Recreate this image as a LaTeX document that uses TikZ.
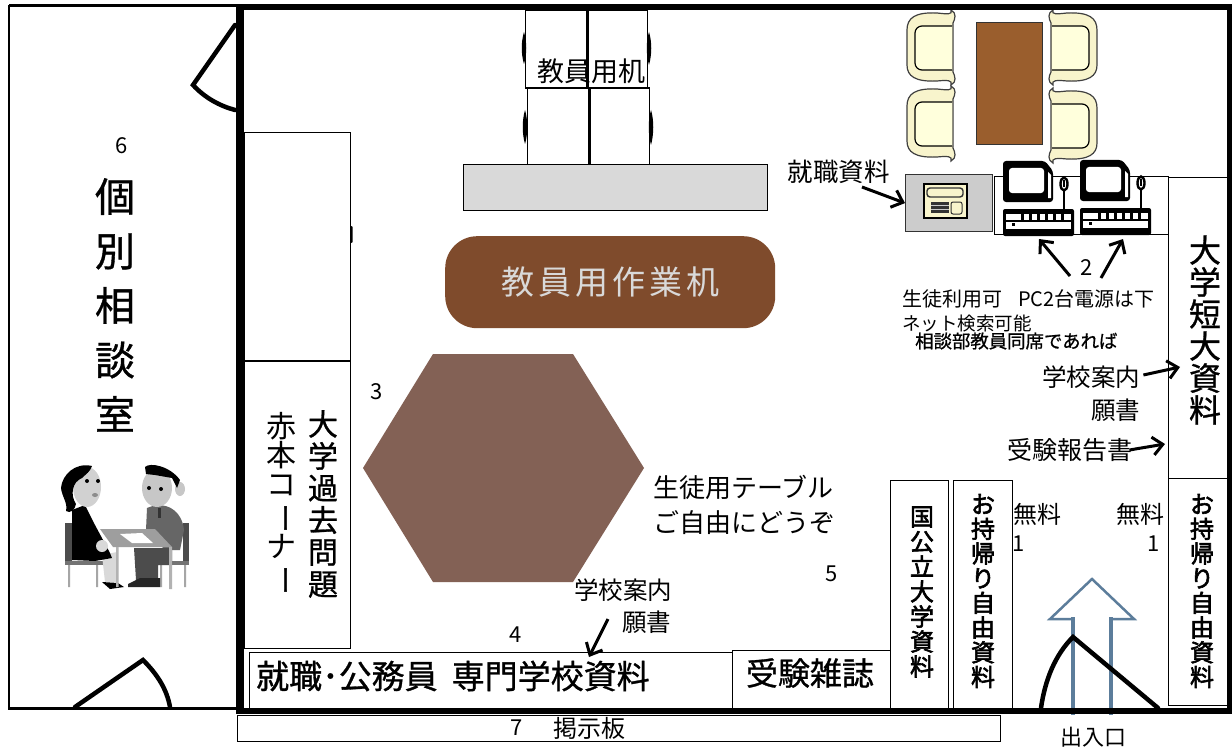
\documentclass[tikz,border=0pt]{standalone}
\usepackage{fontspec}
\setmainfont{Noto Sans CJK JP}
\newfontfamily\medfont{Noto Sans CJK JP}[FakeBold=0.9]
\newfontfamily\heavyfont{Noto Sans CJK JP}[FakeBold=2.5]
\usetikzlibrary{arrows.meta}
\newcommand{\fs}[2]{\fontsize{#1pt}{#2pt}\selectfont}
\newcommand{\choon}{\rotatebox[origin=c]{-90}{ー}}
\definecolor{sofa}{HTML}{F8F4CC}
\definecolor{cushion}{HTML}{FFFFDC}
\definecolor{woodA}{HTML}{7F4B2C}
\definecolor{woodB}{HTML}{9A5E2D}
\definecolor{hexbrown}{HTML}{836155}
\definecolor{arrowblue}{HTML}{5C7D9B}
\tikzset{
  wall/.style={fill=black,draw=none},
  thinbox/.style={draw=black,line width=1.2pt,fill=white},
  doorline/.style={draw=black,line width=4.5pt,line cap=round,line join=miter},
  barb/.style={draw=black,line width=3pt,-{Straight Barb[length=10pt,width=18pt,line width=3pt]}},
  lab/.style={inner sep=0pt,text=black},
  num/.style={lab,font=\fs{22}{22}},
  vt/.style={lab,align=center},
  chairmark/.style={fill=black,draw=none},
}
\newcommand{\mychair}[3]{%
\begin{scope}[shift={(#1,#2)},xscale=#3]
  \path[draw=black!75,line width=1.2pt,fill=sofa] (44,0) .. controls (46,5) and (40,4) .. (30,3) .. controls (8,2) and (0,8) .. (0,20)
    -- (0,55) .. controls (0,66) and (8,72) .. (30,71) .. controls (40,70) and (46,70) .. (44,75)
    .. controls (50,72) and (48,66) .. (46,62) -- (46,13) .. controls (48,9) and (50,3) .. (44,0) -- cycle;
  \path[draw=black,line width=1.2pt,fill=cushion,rounded corners=7pt] (45,16) -- (8,16) -- (8,60) -- (45,60);
\end{scope}}
\newcommand{\mycomputer}[2]{%
\begin{scope}[shift={(#1,#2)}]
  \path[fill=black,rounded corners=3pt] (0,0) -- (42,0) -- (50,10) -- (50,41) -- (0,41) -- cycle;
  \path[fill=white,rounded corners=3pt] (6,7) -- (41,7) -- (41,32) -- (6,32) -- cycle;
  \path[fill=white] (45,11) -- (48,14) -- (48,37) -- (45,37) -- cycle;
  \path[draw=black,line width=1.8pt] (61,30) -- (61,48);
  \path[draw=black,line width=2.4pt,fill=white] (61,23) ellipse (3.5 and 6.5);
  \path[fill=black] (60,19) rectangle (62,26);
  \path[fill=black,rounded corners=2pt] (0,48) rectangle (71,75);
  \path[fill=white] (3,53) rectangle (68,68);
  \foreach \kx in {18,26,34,42,50,58} {\path[fill=black] (\kx,53) rectangle (\kx+3,61);}
  \path[fill=black] (3,59) rectangle (68,61);
  \path[fill=black] (9,62) rectangle (12,65);
\end{scope}}
\begin{document}
\begin{tikzpicture}[x=1pt,y=-1pt]
\useasboundingbox (0,0) rectangle (1232,749);
\fill[white] (0,0) rectangle (1232,749);

% left counselling room
\draw[line width=2.6pt] (9,5.5) -- (236,5.5);
\draw[line width=2.6pt] (9,5.5) -- (9,708.5) -- (236,708.5);

% board
\node[thinbox,minimum width=763pt,minimum height=26pt,inner sep=0pt,anchor=north west] (board) at (237,715) {};
\node[lab,font=\fs{22}{22},anchor=west] (boardnum) at (510,728) {7};
\node[lab,font=\fs{24}{24},anchor=west] (boardtext) at (553,728) {掲示板};

% doors
\draw[doorline] (235,25) -- (193,85) .. controls (205,98) and (220,106) .. (235,110);
\draw[doorline] (75,707) -- (143,660) .. controls (158,675) and (167,690) .. (170,707);

% shelves
\node[thinbox,minimum width=106pt,minimum height=228pt,inner sep=0pt,anchor=north west] (shelfA) at (244,132) {};
\fill[black,rounded corners=1pt] (350.5,226) rectangle (352.5,243);
\node[thinbox,minimum width=106pt,minimum height=287pt,inner sep=0pt,anchor=north west] (shelfB) at (244,360.5) {};
\draw[line width=2pt] (244,360.5) -- (350,360.5);
\node[vt,font={\medfont\fs{30}{32}}] (pastq) at (323,504) {大\\学\\過\\去\\問\\題};
\node[vt,font={\fs{30}{29}}] (akahon) at (281,504) {赤\\本\\コ\\\choon\\ナ\\\choon};

% desks at the top
\draw[line width=1.4pt,fill=white] (525.5,10) rectangle (587,88);
\draw[line width=1.4pt,fill=white] (587,10) rectangle (647.5,88);
\draw[line width=1.4pt,fill=white] (527.5,88) rectangle (589,165);
\draw[line width=1.4pt,fill=white] (589,88) rectangle (649.5,165);
\draw[line width=2.4pt] (587.5,10) -- (587.5,88) (589.5,88) -- (589.5,165);
\fill[chairmark] (524,32) .. controls (521,42) and (521,54) .. (524,64) .. controls (527,54) and (527,42) .. (524,32);
\fill[chairmark] (525,110) .. controls (522,120) and (522,134) .. (525,144) .. controls (528,134) and (528,120) .. (525,110);
\fill[chairmark] (649,32) .. controls (646,42) and (646,54) .. (649,65) .. controls (652,54) and (652,42) .. (649,32);
\fill[chairmark] (651,110) .. controls (648,120) and (648,134) .. (651,145) .. controls (654,134) and (654,120) .. (651,110);
\node[lab,font=\fs{27}{27}] (teacherdesk) at (591,71) {教員用机};
\node[draw=black,line width=1.2pt,fill=black!15,minimum width=304pt,minimum height=46pt,inner sep=0pt,anchor=north west] (grayshelf) at (463,164) {};

% work table
\node[fill=woodA,rounded corners=32pt,minimum width=330pt,minimum height=92pt,inner sep=0pt,text=white!85!black,font={\fs{33}{33}\addfontfeature{LetterSpace=12}},anchor=north west] (worktable) at (445,236) {教員用作業机};

% hexagon
\fill[hexbrown] (363,468) -- (433,354) -- (573,354) -- (644,468) -- (573,582) -- (433,582) -- cycle;
\node[num] (n3) at (377,392) {3};
\node[num] (n4) at (516,635) {4};
\node[num] (n5) at (832,574) {5};
\node[num] (n6) at (122,146) {6};
\node[lab,font=\fs{26}{35},align=left,anchor=west] (studenttable) at (653,505) {生徒用テーブル\\ご自由にどうぞ};
\node[lab,font=\fs{24.5}{24.5},anchor=west] (schoolA) at (574,590) {学校案内};
\node[lab,font=\fs{24.5}{24.5},anchor=west] (appA) at (622,622) {願書};

% bottom boxes
\node[thinbox,minimum width=483pt,minimum height=56pt,inner sep=0pt,anchor=north west] (jobbox) at (248.5,652) {};
\node[lab,font={\medfont\fs{33}{33}},anchor=west] (jobtext) at (256,676) {就職･公務員\hspace{14pt}専門学校資料};
\node[thinbox,minimum width=158pt,minimum height=58pt,inner sep=0pt,anchor=north west] (examboxA) at (731.5,650) {};
\node[lab,font={\medfont\fs{32}{32}}] (examtext) at (810,673) {受験雑誌};
\node[thinbox,minimum width=58pt,minimum height=228pt,inner sep=0pt,anchor=north west] (natbox) at (890,480) {};
\node[vt,font={\heavyfont\fs{24}{25}}] (nattext) at (922,592) {国\\公\\立\\大\\学\\資\\料};
\node[thinbox,minimum width=59pt,minimum height=228pt,inner sep=0pt,anchor=north west] (freeA) at (953,480) {};
\node[vt,font={\heavyfont\fs{24}{24.7}}] (freetextA) at (983,591) {お\\持\\帰\\り\\自\\由\\資\\料};
\node[thinbox,minimum width=59pt,minimum height=301pt,inner sep=0pt,anchor=north west] (univbox) at (1168,177) {};
\node[vt,font={\medfont\fs{32}{32}}] (univtext) at (1205,330) {大\\学\\短\\大\\資\\料};
\node[thinbox,minimum width=59pt,minimum height=227pt,inner sep=0pt,anchor=north west] (freeB) at (1168,478) {};
\node[vt,font={\heavyfont\fs{24}{24.7}}] (freetextB) at (1202,591) {お\\持\\帰\\り\\自\\由\\資\\料};

% free labels
\node[lab,font=\fs{24}{24}] (muryoA) at (1037.5,514) {無料};
\node[lab,font=\fs{24}{24}] (muryoB) at (1140.5,514) {無料};
\node[num] (oneA) at (1019,544) {1};
\node[num] (oneB) at (1154,544) {1};

% entrance arrow and door
\draw[arrowblue,line width=2.5pt,line join=miter] (1073,619) -- (1050,619) -- (1092,579) -- (1134,619) -- (1111,619);
\draw[arrowblue,line width=4pt] (1073,617) -- (1073,715) (1111,617) -- (1111,715);
\draw[doorline] (1041,708) .. controls (1045,680) and (1055,655) .. (1073,637) -- (1158,708);
\node[lab,font=\fs{22}{22}] (entrance) at (1093,737) {出入口};

% individual room
\node[vt,font={\medfont\fs{40}{54.5}}] (room) at (115,305) {個\\別\\相\\談\\室};

% illustration of two people
\fill[black!70] (65,523) rectangle (72,562);
\fill[black!55] (65,561) rectangle (112,565);
\fill[black!35] (68,565) rectangle (70,587) (96,565) rectangle (98,587);
\fill[black!70] (183,523) rectangle (189,563);
\fill[black!55] (160,561) rectangle (189,565);
\fill[black!35] (160,565) rectangle (162,587) (184,565) rectangle (186,587);
\fill[black!15] (102,555) -- (117,552) -- (116,582) -- (105,582) -- cycle;
\fill[black] (102,582) -- (118,583) -- (124,587) -- (110,589) -- cycle;
\fill[black] (72,510) -- (85,505) -- (95,525) -- (110,553) -- (112,558) -- (95,561) -- (72,560) -- cycle;
\fill[black!15] (102,546) circle (6);
\fill[black!18] (87,487) ellipse (14 and 20);
\fill[black] (92,466) .. controls (75,462) and (62,475) .. (61,488) .. controls (62,497) and (68,503) .. (66,511) .. controls (70,514) and (75,510) .. (76,504) .. controls (70,495) and (72,482) .. (82,478) .. controls (86,474) and (90,472) .. (92,466);
\fill[black] (87,481) circle (2) (98,481) circle (2);
\fill[black!45] (95,495) ellipse (3 and 2);
\fill[black!60] (147,508) .. controls (165,500) and (182,510) .. (184,530) -- (180,550) -- (165,550) -- (146,530) -- cycle;
\fill[black!22] (157,488) ellipse (15 and 19);
\fill[black!22] (180,489) ellipse (5 and 7);
\fill[black] (145,467) .. controls (150,462) and (170,466) .. (180,480) -- (177,488) -- (172,478) -- (155,475) -- (146,474) -- cycle;
\fill[black] (149,488) circle (2) (161,489) circle (2);
\fill[black!80] (158,508) rectangle (161,518);
\fill[black!70] (134,548) -- (172,548) -- (172,565) -- (158,565) -- (158,580) -- (136,580) -- cycle;
\fill[black!85] (128,584) -- (140,578) -- (160,578) -- (160,587) -- (128,587) -- cycle;
\fill[black!38] (100,529) -- (155,529) -- (172,547) -- (113,547) -- cycle;
\fill[white] (120,534) -- (142,533) -- (153,543) -- (132,543) -- cycle;
\fill[black!30] (116,547) rectangle (118.5,587) (169,547) rectangle (172,589);

% sofas and low table
\mychair{907}{10}{1}
\mychair{907}{86}{1}
\mychair{1097}{10}{-1}
\mychair{1097}{88}{-1}
\node[draw=black!80,line width=1pt,fill=woodB,minimum width=66pt,minimum height=122pt,inner sep=0pt,anchor=north west] (lowtable) at (976,22) {};

% printer table and PC table
\node[thinbox,minimum width=174pt,minimum height=58pt,inner sep=0pt,anchor=north west] (pctable) at (994,176) {};
\node[draw=black!80,line width=1.2pt,fill=black!20,minimum width=87pt,minimum height=57pt,inner sep=0pt,anchor=north west] (printertable) at (905,174) {};
\fill[sofa,draw=black,line width=1.2pt] (924,184) rectangle (967,218);
\draw[black!80,line width=1.4pt,fill=sofa,rounded corners=3pt] (927,188) rectangle (963,197);
\fill[black!80] (931,202) rectangle (949,213);
\draw[black!20,line width=.7pt] (931,205) -- (949,205) (931,209) -- (949,209);
\draw[black!80,line width=1pt,fill=sofa,rounded corners=2pt] (951,202) rectangle (962,214);
\mycomputer{1003}{161}
\mycomputer{1080}{160}

% labels and arrows on the right
\node[lab,font=\fs{25.5}{25.5}] (jobdata) at (838.5,172) {就職資料};
\coordinate (jobdataFrom) at (862,187);
\draw[barb] (jobdataFrom) -- (printertable.west);
\node[num] (n2) at (1087,268) {2};
\coordinate (pcA) at (1039,239);
\coordinate (pcB) at (1123,239);
\coordinate (n2a) at (1070,276);
\coordinate (n2b) at (1101,278);
\draw[barb] (n2a) -- (pcA);
\draw[barb] (n2b) -- (pcB);
\node[lab,font=\fs{20}{20},anchor=west] (useA) at (902,299) {生徒利用可\hspace{16pt}PC2台電源は下};
\node[lab,font=\fs{18.5}{18.5},anchor=west] (useB) at (902,324) {ネット検索可能};
\node[lab,font={\medfont\fs{18.4}{18.4}},anchor=west] (useC) at (915,341) {相談部教員同席であれば};
\node[lab,font=\fs{24.5}{24.5},anchor=west] (schoolB) at (1042,377) {学校案内};
\node[lab,font=\fs{24.5}{24.5},anchor=west] (appB) at (1091,410) {願書};
\node[lab,font=\fs{25}{25},anchor=west] (report) at (1007,450) {受験報告書};
\coordinate (schoolBto) at (1180,367);
\coordinate (reportto) at (1165,444);
\draw[barb] (schoolB.east) ++(3,-2) -- (schoolBto);
\draw[barb] (report.east) ++(-3,0) -- (reportto);
\coordinate (appAfrom) at (608,619);
\coordinate (appAto) at (589,657);
\draw[barb] (appAfrom) -- (appAto);

% main walls (on top)
\fill[wall] (236,4) rectangle (1232,10);
\fill[wall] (235.5,4) rectangle (244,714);
\fill[wall] (236,708) rectangle (1232,714);
\fill[wall] (1227,4) rectangle (1232,714);
\end{tikzpicture}
\end{document}
